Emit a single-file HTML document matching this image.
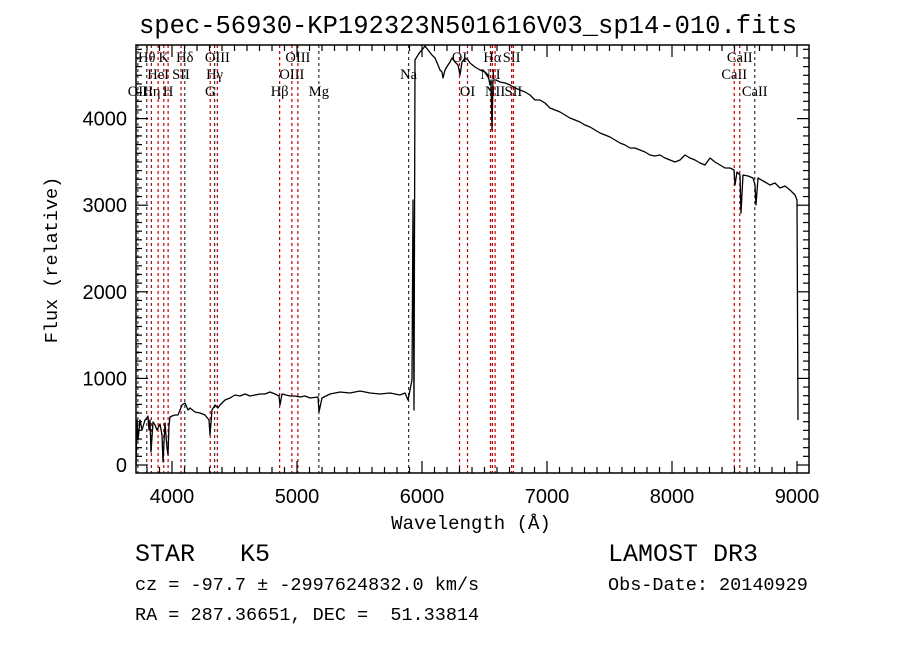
<!DOCTYPE html>
<html><head><meta charset="utf-8"><style>
html,body{margin:0;padding:0;background:#fff;}
svg{display:block;}
.mono{font-family:"Liberation Mono",monospace;}
.sans{font-family:"Liberation Sans",sans-serif;}
.serif{font-family:"Liberation Serif",serif;}
</style></head><body>
<svg id="chart" width="900" height="649" viewBox="0 0 900 649" xmlns="http://www.w3.org/2000/svg">
<rect width="900" height="649" fill="#fff"/>
<text class="mono" x="468" y="33" font-size="25.5" text-anchor="middle">spec-56930-KP192323N501616V03_sp14-010.fits</text>
<g id="lines"></g>
<g id="spec"></g>
<g id="axes"></g>
<text class="mono" x="471" y="529" font-size="19" text-anchor="middle">Wavelength (Å)</text>
<text class="mono" transform="translate(57,260) rotate(-90)" font-size="18.5" text-anchor="middle">Flux (relative)</text>
<text class="mono" x="135" y="561" font-size="25" xml:space="preserve">STAR   K5</text>
<text class="mono" x="135" y="590" font-size="18.5" xml:space="preserve">cz = -97.7 ± -2997624832.0 km/s</text>
<text class="mono" x="135" y="620" font-size="18.5" xml:space="preserve">RA = 287.36651, DEC =  51.33814</text>
<text class="mono" x="608" y="561" font-size="25" xml:space="preserve">LAMOST DR3</text>
<text class="mono" x="608" y="590" font-size="18.5" xml:space="preserve">Obs-Date: 20140929</text>
</svg>
<script>
const wave=[3712,3720,3728,3744,3760,3784,3800,3808,3816,3824,3832,3848,3864,3880,3904,3920,3928,3944,3960,3968,3976,3984,4000,4024,4048,4064,4080,4104,4128,4144,4184,4224,4264,4296,4304,4320,4344,4368,4384,4424,4464,4504,4544,4584,4624,4664,4704,4744,4784,4824,4856,4864,4880,4944,4984,5024,5064,5104,5168,5176,5200,5264,5344,5424,5504,5584,5664,5744,5824,5864,5888,5904,5920,5928,5936,5944,5968,5984,6000,6024,6048,6080,6104,6128,6144,6160,6168,6184,6208,6224,6240,6264,6288,6304,6320,6344,6368,6384,6424,6464,6504,6528,6544,6552,6560,6568,6592,6624,6664,6704,6744,6784,6824,6864,6904,6944,6984,7024,7064,7104,7144,7184,7224,7264,7304,7344,7384,7424,7464,7504,7544,7584,7624,7664,7704,7744,7784,7824,7864,7904,7944,7984,8024,8064,8104,8144,8184,8224,8264,8304,8344,8384,8424,8464,8496,8504,8520,8544,8552,8568,8608,8648,8664,8672,8688,8744,8784,8824,8864,8904,8944,8984,9000,9008];
const flux=[0,520,289,520,404,520,543,566,404,520,150,497,462,404,473,346,35,485,196,115,462,554,566,577,577,635,693,716,635,658,612,600,577,520,346,635,693,658,693,751,774,808,797,820,797,808,820,820,843,820,797,693,820,797,797,785,797,774,785,612,774,820,843,831,854,831,820,831,808,831,751,866,981,3060,635,4677,4734,4769,4792,4838,4792,4734,4700,4619,4561,4538,4469,4561,4619,4654,4700,4654,4619,4503,4654,4700,4677,4642,4596,4561,4538,4503,4388,4446,3868,4446,4446,4423,4411,4388,4353,4330,4307,4272,4215,4215,4180,4122,4099,4076,4041,4007,3984,3961,3926,3903,3868,3834,3811,3787,3753,3718,3695,3660,3660,3637,3614,3580,3568,3580,3545,3522,3499,3522,3580,3545,3522,3487,3464,3545,3499,3464,3429,3429,3406,3233,3383,3349,2910,3349,3337,3314,3233,3002,3314,3268,3233,3256,3199,3222,3175,3118,3060,520];
const lineWaves=[3727,3798,3835,3889,3934,3969,4072,4102,4306,4341,4363,4861,4959,5007,5175,5893,6300,6364,6548,6563,6585,6717,6731,8498,8542,8662];
const lineNames=["OII","Hθ","Hη","HeI","K","H","SII","Hδ","G","Hγ","OIII","Hβ","OIII","OIII","Mg","Na","OI","OI","NII","Hα","NII","SII","SII","CaII","CaII","CaII"];
const lineRows=[2,0,2,1,0,2,1,0,2,1,0,2,1,0,2,1,0,2,1,0,2,0,2,1,0,2];
const lineColor=["k","k","r","r","r","r","r","k","r","k","r","r","r","r","k","k","r","r","r","r","r","r","r","r","r","k"];
const xTicks=[4000,5000,6000,7000,8000,9000];
const yTicks=[0,1000,2000,3000,4000];
const X0=136,X1=809,Y0=45,Y1=473;
const xs=w=>172+(w-4000)/8;
const ys=f=>465-f*0.0866;
const NS="http://www.w3.org/2000/svg";
function mk(tag,attrs,parent){const e=document.createElementNS(NS,tag);for(const k in attrs)e.setAttribute(k,attrs[k]);parent.appendChild(e);return e;}
const gl=document.getElementById('lines');
lineWaves.forEach((w,i)=>{
  const x=xs(w);
  const l=mk('line',{x1:x,x2:x,y1:Y0,y2:Y1,stroke:lineColor[i]==="r"?"#c00000":"#333","stroke-width":1.2,"stroke-dasharray":"3,3"},gl);
  
  
  const t=mk('text',{x:x,y:62+lineRows[i]*17,"font-size":14.5,"text-anchor":"middle",class:"serif"},gl);
  t.textContent=lineNames[i];
  
  
});
const gs=document.getElementById('spec');
let d="";
wave.forEach((w,i)=>{d+=(i?"L":"M")+xs(w).toFixed(1)+","+ys(flux[i]).toFixed(1);});
const p=mk('path',{d:d,fill:"none",stroke:"#000","stroke-width":1.3,"stroke-linejoin":"round"},gs);


const ga=document.getElementById('axes');
const fr=mk('rect',{x:X0,y:Y0,width:X1-X0,height:Y1-Y0,fill:"none",stroke:"#000","stroke-width":1.5},ga);


for(let w=3800;w<=9100;w+=100){
  const x=xs(w); if(x<X0||x>X1)continue;
  const L=(w%1000===0)?12:6;
  mk('line',{x1:x,x2:x,y1:Y1,y2:Y1-L,stroke:"#000","stroke-width":1.2},ga);
  mk('line',{x1:x,x2:x,y1:Y0,y2:Y0+L,stroke:"#000","stroke-width":1.2},ga);
}
for(let f=0;f<=4800;f+=100){
  const y=ys(f); if(y<Y0)continue;
  const L=(f%1000===0)?12:6;
  mk('line',{x1:X0,x2:X0+L,y1:y,y2:y,stroke:"#000","stroke-width":1.2},ga);
  mk('line',{x1:X1,x2:X1-L,y1:y,y2:y,stroke:"#000","stroke-width":1.2},ga);
}
xTicks.forEach(v=>{
  const t=mk('text',{x:xs(v),y:503,"font-size":20,"text-anchor":"middle",class:"sans"},ga);
  t.textContent=v;
  
  
});
yTicks.forEach(v=>{
  const t=mk('text',{x:127,y:ys(v)+7,"font-size":20,"text-anchor":"end",class:"sans"},ga);
  t.textContent=v;
  
  
});
</script>
</body></html>
